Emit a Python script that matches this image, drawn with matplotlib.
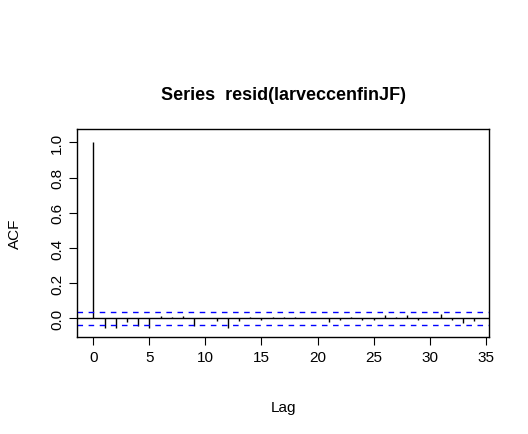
import numpy as np
import matplotlib.pyplot as plt

lags = np.arange(0, 35)
acf = [1.0, -0.053, -0.057, -0.02, -0.042, -0.053, 0.015, 0.008, 0.015, -0.042,
       0.0, -0.015, -0.057, -0.015, 0.008, -0.008, 0.008, 0.008, 0.008, 0.0,
       0.0, -0.023, -0.008, 0.008, -0.008, -0.008, 0.019, 0.008, 0.019, -0.008,
       0.0, 0.027, -0.008, -0.025, -0.015]
ci = 0.035

plt.rcParams['font.family'] = ['Liberation Sans', 'DejaVu Sans']
fig = plt.figure(figsize=(5.28, 4.35), dpi=100)
ax = fig.add_axes([0.146, 0.223, 0.78, 0.478])

ax.vlines(lags, 0, acf, color='black', linewidth=1)
ax.axhline(0, color='black', linewidth=1)
ax.axhline(ci, color='blue', linestyle=(0, (4, 4)), linewidth=1)
ax.axhline(-ci, color='blue', linestyle=(0, (4, 4)), linewidth=1)

ax.set_xlim(-1.46, 35.3)
ax.set_ylim(-0.106, 1.076)
ax.set_xticks(np.arange(0, 36, 5))
ax.set_yticks(np.arange(0, 1.01, 0.2))
ax.set_yticklabels([f'{v:.1f}' for v in np.arange(0, 1.01, 0.2)], rotation=90, va='center')
ax.tick_params(labelsize=11, length=6)
ax.set_xlabel('Lag', fontsize=11, labelpad=26)
ax.set_ylabel('ACF', fontsize=11, labelpad=20)
ax.set_title('Series  resid(larveccenfinJF)', fontsize=13, fontweight='bold', pad=22)
for s in ax.spines.values():
    s.set_linewidth(1)

fig.savefig('out.png', dpi=100)
